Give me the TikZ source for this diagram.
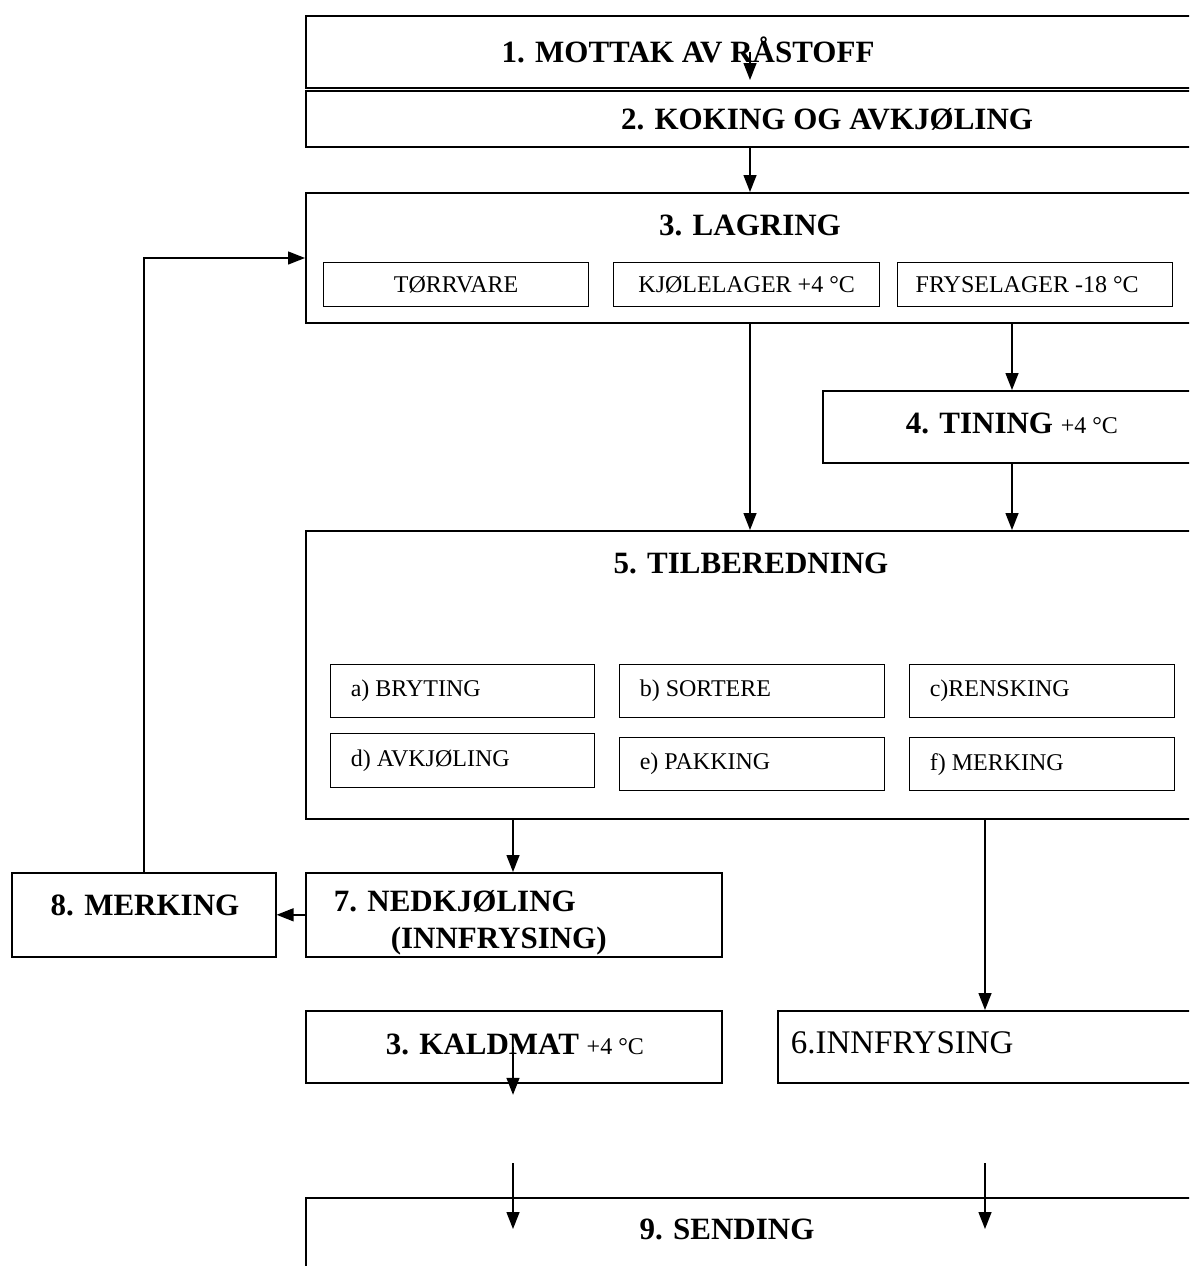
\documentclass[tikz,border=0pt]{standalone}
\usepackage{fontspec}
\setmainfont{Liberation Serif}
\usetikzlibrary{arrows.meta}
\usetikzlibrary{positioning}
\newcommand{\fTitle}{\fontsize{31}{35}\selectfont\bfseries}
\newcommand{\fSub}{\fontsize{24}{28}\selectfont}
\newcommand{\fBig}{\fontsize{33}{37}\selectfont}

\begin{document}
\begin{tikzpicture}
	[x=1pt,y=-1pt,line width=1.6pt,every node/.style={inner sep=0pt},
	 box/.style={draw,rectangle,anchor=north west},
	 sub/.style={draw,rectangle,anchor=north west,line width=1.3pt},
	 title/.style={font=\fTitle},
	 small/.style={font=\fSub},
	 arr/.style={-{Triangle[length=17pt,width=13pt]},line width=1.4pt}]
	\useasboundingbox (0,0) rectangle (1189,1266);
	\clip (0,0) rectangle (1189,1266);
	% columns of the connectors
	\coordinate (cA) at (750,0);
	\coordinate (cB) at (1012,0);
	\coordinate (cC) at (513,0);
	\coordinate (cD) at (985,0);
	\coordinate (cL) at (0,258);
	% main boxes
	\node[box,minimum width=900,minimum height=72] (mottak) at (305,15) {};
	\node[box,minimum width=900,minimum height=56] (koking) at (305,90) {};
	\node[box,minimum width=900,minimum height=130] (lagring) at (305,192) {};
	\node[box,minimum width=400,minimum height=72] (tining) at (822,390) {};
	\node[box,minimum width=900,minimum height=288] (tilb) at (305,530) {};
	\node[box,minimum width=416,minimum height=84] (nedkj) at (305,872) {};
	\node[box,minimum width=264,minimum height=84] (merk) at (11,872) {};
	\node[box,minimum width=416,minimum height=72] (kald) at (305,1010) {};
	\node[box,minimum width=450,minimum height=72] (innfr) at (777,1010) {};
	\node[box,minimum width=900,minimum height=120] (sending) at (305,1197) {};
	% boxes inside 3 and 5
	\node[sub,minimum width=265,minimum height=44] (torr) at (323,262) {};
	\node[sub,minimum width=266,minimum height=44] (kjol) at (613,262) {};
	\node[sub,minimum width=275,minimum height=44] (frys) at (897,262) {};
	\node[sub,minimum width=264,minimum height=53] (sa) at (330,664) {};
	\node[sub,minimum width=265,minimum height=53] (sb) at (619,664) {};
	\node[sub,minimum width=265,minimum height=53] (sc) at (909,664) {};
	\node[sub,minimum width=264,minimum height=54] (sd) at (330,733) {};
	\node[sub,minimum width=265,minimum height=53] (se) at (619,737) {};
	\node[sub,minimum width=265,minimum height=53] (sf) at (909,737) {};
	% texts
	\node[title] (tMottak) at (688,50) {1. MOTTAK AV RÅSTOFF};
	\node[title] (tKoking) at (827,119) {2. KOKING OG AVKJØLING};
	\node[title] (tLagring) at (750,225) {3. LAGRING};
	\node[title,anchor=west] (tTining) at (905,423) {4. TINING \fSub\mdseries +4 °C};
	\node[title] (tTilb) at (751,563) {5. TILBEREDNING};
	\node[title,anchor=west] (tNed) at (333,901) {7. NEDKJØLING};
	\node[title,anchor=west] (tInn) at (390,941) {(INNFRYSING)};
	\node[title] (tMerk) at (145,905) {8. MERKING};
	\node[title,anchor=west] (tKald) at (385,1044) {3. KALDMAT \fSub\mdseries +4 °C};
	\node[font=\fBig,anchor=west] (tInnfr) at (790,1043) {6.INNFRYSING};
	\node[title] (tSending) at (727,1229) {9. SENDING};
	\node[small] at (torr.center) {TØRRVARE};
	\node[small] at (kjol.center) {KJØLELAGER +4 °C};
	\node[small] at ([xshift=-8pt]frys.center) {FRYSELAGER -18 °C};
	\node[small,anchor=west] at ([xshift=20pt]sa.west) {a) BRYTING};
	\node[small,anchor=west] at ([xshift=20pt]sb.west) {b) SORTERE};
	\node[small,anchor=west] at ([xshift=20pt]sc.west) {c)RENSKING};
	\node[small,anchor=west] at ([xshift=20pt]sd.west) {d) AVKJØLING};
	\node[small,anchor=west] at ([xshift=20pt]se.west) {e) PAKKING};
	\node[small,anchor=west] at ([xshift=20pt]sf.west) {f) MERKING};
	% connectors
	\draw[arr] (mottak.center -| cA) -- ([yshift=10pt]koking.north -| cA);
	\draw[arr] (koking.south -| cA) -- (lagring.north -| cA);
	\draw[arr] (lagring.south -| cA) -- (tilb.north -| cA);
	\draw[arr] (lagring.south -| cB) -- (tining.north -| cB);
	\draw[arr] (tining.south -| cB) -- (tilb.north -| cB);
	\draw[arr] (tilb.south -| cC) -- (nedkj.north -| cC);
	\draw[arr] (tilb.south -| cD) -- (innfr.north -| cD);
	\draw[arr] (nedkj.west) -- (merk.east);
	\draw[arr] (merk.north) |- (lagring.west |- cL);
	\draw[arr] (kald.center -| cC) -- ++(0,48);
	\coordinate (s1) at (513,1163);
	\coordinate (s2) at (985,1163);
	\draw[arr] (s1) -- (s1 |- tSending.center);
	\draw[arr] (s2) -- (s2 |- tSending.center);
\end{tikzpicture}
\end{document}
